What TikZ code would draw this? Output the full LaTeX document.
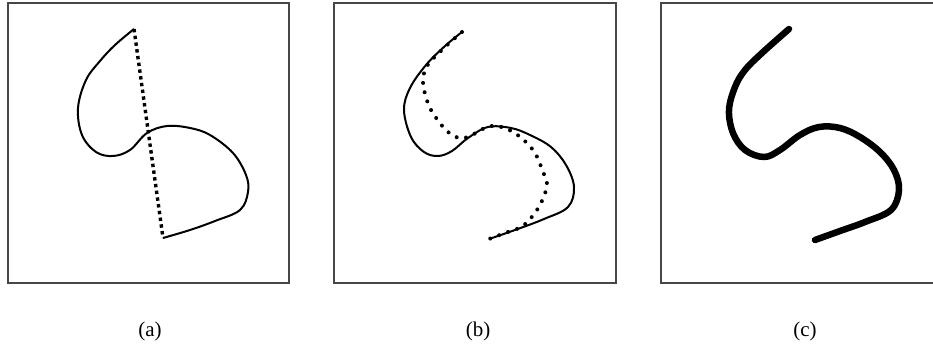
\documentclass[tikz,border=0pt]{standalone}
\usepackage{fontspec}
\setmainfont{Liberation Serif}
\begin{document}
\begin{tikzpicture}[x=1pt,y=-1pt,
  frame/.style={draw=black!72,line width=2.6pt},
  curve/.style={line width=2pt,line join=round},
  thick curve/.style={line width=6.5pt,line cap=round,line join=round},
  densedots/.style={line width=3.4pt,dash pattern=on 3.4pt off 3.4pt},
  sparsedots/.style={line width=4pt,line cap=round,dash pattern=on 0pt off 9.5pt},
  caption/.style={font=\fontsize{21}{24}\selectfont,inner sep=0pt}]
\clip (0,0) rectangle (933,352);
\fill[white] (0,0) rectangle (933,352);
% frames
\draw[frame] (8,3) rectangle (289,283);
\draw[frame] (334,3) rectangle (616,283);
\draw[frame] (661,3) rectangle (945,283);
% (a)
\draw[curve] plot[smooth,tension=0.6] coordinates {(134,29) (115,45) (100,61) (86,80) (78,108) (82,135) (96,152) (113,156) (130,150) (147,133) (167,126) (190,128) (210,135) (233,153) (246,175) (248,192) (240,210) (215,221) (190,230) (163,238)};
\draw[densedots] (134,29) -- (163,238);
% (b)
\draw[curve] plot[smooth,tension=0.6] coordinates {(462,32) (445,46) (426,65) (410,88) (404,110) (411,137) (424,152) (438,156) (452,151) (468,138) (488,127) (511,128) (530,135) (551,147) (566,165) (574,187) (568,207) (544,219) (515,230) (489,239)};
\draw[sparsedots] plot[smooth,tension=0.6] coordinates {(462,32) (444,48) (427,66) (423,82) (426,97) (431,110) (444,128) (456,137) (468,137) (491,126) (513,132) (533,150) (543,172) (547,185) (541,203) (531,218) (521,227) (505,233) (489,239)};
% (c)
\draw[thick curve] plot[smooth,tension=0.6] coordinates {(789,29) (762,53) (745,70) (735,87) (729,110) (733,133) (745,150) (764,157) (780,150) (800,135) (819,127) (840,128) (860,137) (880,152) (894,170) (899,190) (891,210) (865,222) (840,231) (815,240)};
% captions
\node[caption] (capa) at (150,331) {(a)};
\node[caption] (capb) at (478,331) {(b)};
\node[caption] (capc) at (805,331) {(c)};
\end{tikzpicture}
\end{document}
